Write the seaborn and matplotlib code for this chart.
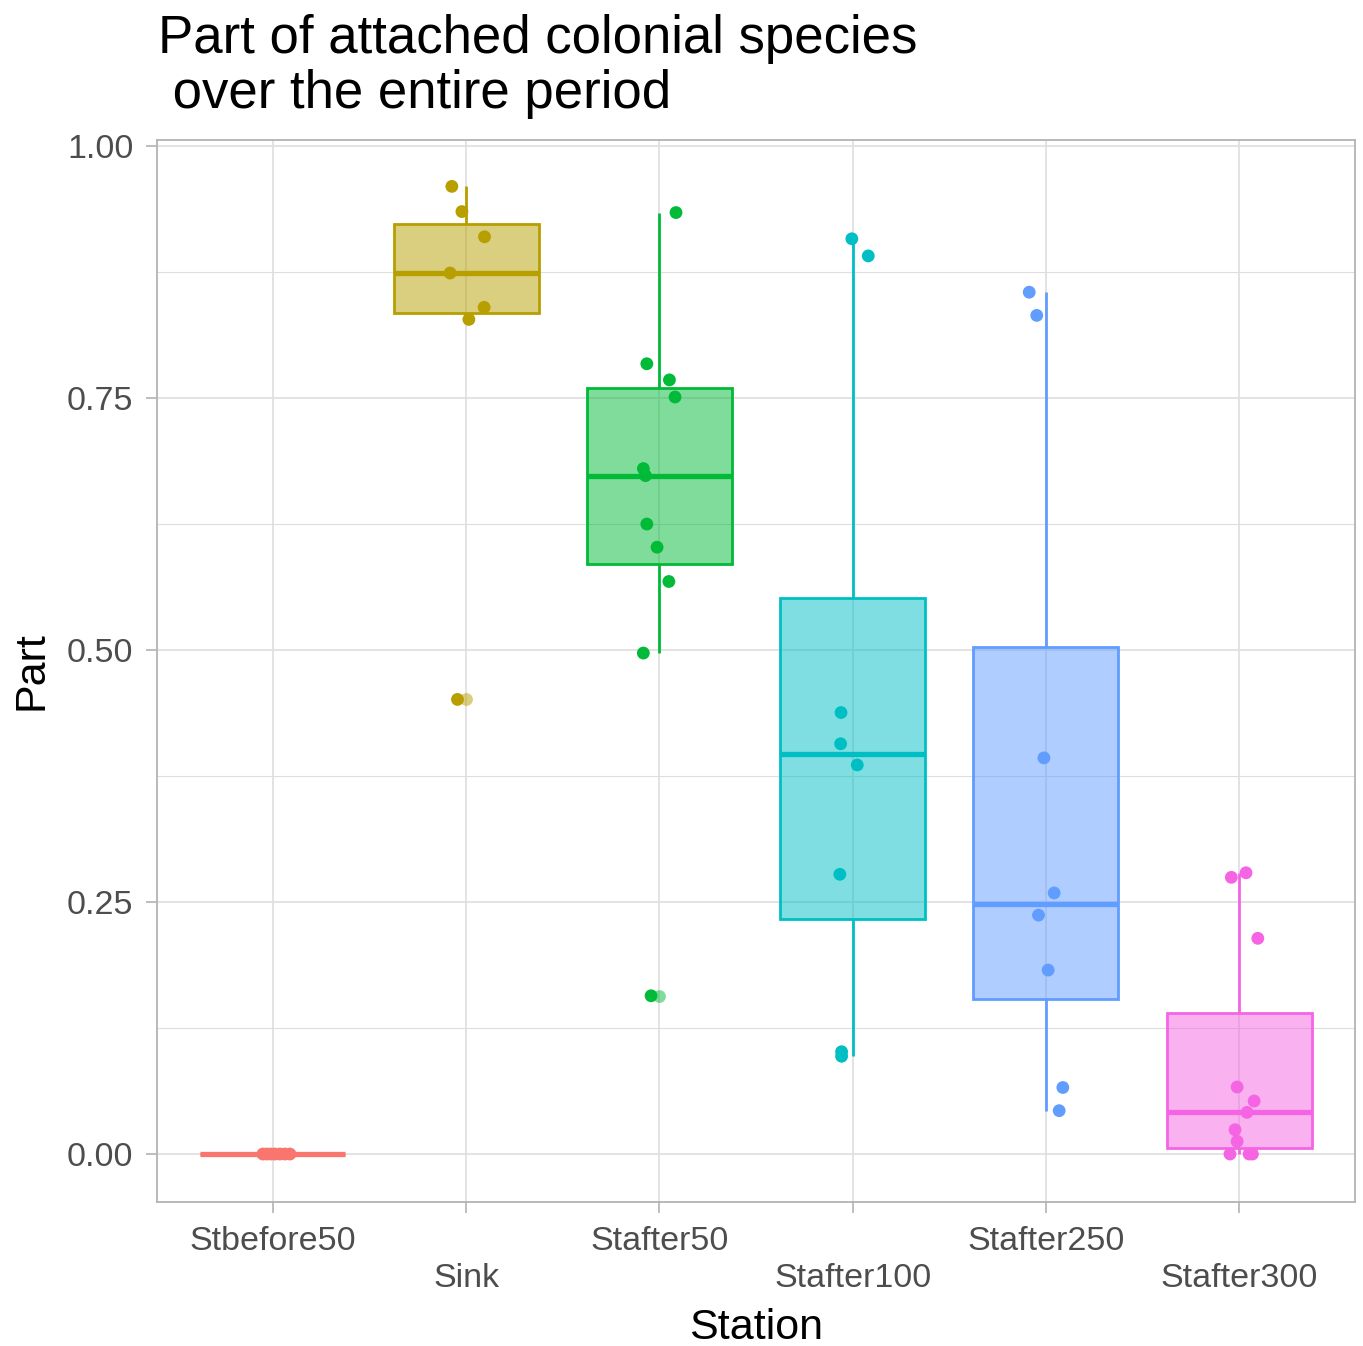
import numpy as np
import pandas as pd
import matplotlib
matplotlib.use("Agg")
import matplotlib.pyplot as plt
from matplotlib.colors import to_rgba
import seaborn as sns

# ---------------- data ----------------
stations = ["Stbefore50", "Sink", "Stafter50", "Stafter100", "Stafter250", "Stafter300"]
colors = ["#F8766D", "#B79F00", "#00BA38", "#00BFC4", "#619CFF", "#F564E3"]

part_stbefore50 = [0, 0, 0, 0, 0, 0, 0]
part_sink = [0.960, 0.935, 0.910, 0.874, 0.840, 0.828, 0.451]
part_stafter50 = [0.934, 0.784, 0.768, 0.751, 0.680, 0.673, 0.625, 0.602, 0.568, 0.497, 0.157]
part_stafter100 = [0.908, 0.891, 0.438, 0.407, 0.386, 0.2775, 0.1015, 0.097]
part_stafter250 = [0.855, 0.832, 0.393, 0.259, 0.237, 0.1825, 0.066, 0.043]
part_stafter300 = [0.2745, 0.279, 0.214, 0.0665, 0.0526, 0.0413, 0.0241, 0.0126, 0.0, 0.0, 0.0]

# horizontal jitter of each point (category units)
jit_stbefore50 = [-0.052, -0.031, -0.010, 0.010, 0.036, 0.062, 0.088]
jit_sink = [-0.074, -0.022, 0.095, -0.083, 0.093, 0.014, -0.045]
jit_stafter50 = [0.086, -0.065, 0.052, 0.081, -0.083, -0.072, -0.065, -0.012, 0.049, -0.083, -0.043]
jit_stafter100 = [-0.004, 0.081, -0.060, -0.062, 0.024, -0.066, -0.057, -0.057]
jit_stafter250 = [-0.086, -0.047, -0.010, 0.043, -0.038, 0.012, 0.088, 0.069]
jit_stafter300 = [-0.040, 0.036, 0.097, -0.010, 0.078, 0.041, -0.021, -0.010, -0.047, 0.052, 0.069]

y_ticks = [0.0, 0.25, 0.50, 0.75, 1.00]
y_tick_labels = ["0.00", "0.25", "0.50", "0.75", "1.00"]

title = "Part of attached colonial species\n over the entire period"

values = [part_stbefore50, part_sink, part_stafter50, part_stafter100, part_stafter250, part_stafter300]
jitters = [jit_stbefore50, jit_sink, jit_stafter50, jit_stafter100, jit_stafter250, jit_stafter300]

rows = []
for st, vals, jits in zip(stations, values, jitters):
    for v, j in zip(vals, jits):
        rows.append({"Station": st, "Part": v, "jit": j})
df = pd.DataFrame(rows)
df["xpos"] = df["Station"].map({s: i for i, s in enumerate(stations)}) + df["jit"]

# ---------------- figure ----------------
sns.set_style("white")
plt.rcParams["font.family"] = ["Liberation Sans", "DejaVu Sans"]

W, H = 1363, 1346
fig = plt.figure(figsize=(W / 100, H / 100), dpi=100)
L, R, T, B = 157, 1355, 140, 1202
ax = fig.add_axes([L / W, 1 - B / H, (R - L) / W, (B - T) / H])

grey70 = "#B3B3B3"
grey87 = "#DEDEDE"
grey30 = "#4D4D4D"

lw_box = 2.0
pal = dict(zip(stations, colors))
for st, c in zip(stations, colors):
    sub = df[df["Station"] == st]
    n_before = len(ax.patches)
    sns.boxplot(data=sub, x="Station", y="Part", order=stations, color=c,
                linecolor=c, linewidth=lw_box, width=0.75, whis=1.5,
                showcaps=False, fill=True, ax=ax,
                medianprops=dict(color=c, linewidth=3.8),
                whiskerprops=dict(color=c, linewidth=lw_box),
                flierprops=dict(marker="o", markersize=9.2,
                                markerfacecolor=to_rgba(c, 0.5),
                                markeredgecolor="none"))
    for p in ax.patches[n_before:]:
        p.set_facecolor(to_rgba(c, 0.5))
        p.set_edgecolor(c)

sns.scatterplot(data=df, x="xpos", y="Part", hue="Station", palette=pal,
                hue_order=stations, s=85, linewidth=0, legend=False, ax=ax,
                zorder=5)

ax.set_xlim(-0.6, 5.6)
ax.set_ylim(-0.0476, 1.006)

# grid
ax.set_axisbelow(True)
ax.set_yticks(y_ticks)
ax.set_yticklabels(y_tick_labels)
ax.set_yticks([0.125, 0.375, 0.625, 0.875], minor=True)
ax.set_xticks(range(len(stations)))
ax.set_xticklabels([s if i % 2 == 0 else "\n" + s for i, s in enumerate(stations)],
                   linespacing=1.25)
ax.grid(True, which="major", color=grey87, linewidth=1.2)
ax.grid(True, which="minor", axis="y", color=grey87, linewidth=0.8)

for sp in ax.spines.values():
    sp.set_visible(True)
    sp.set_color(grey70)
    sp.set_linewidth(1.3)

ax.tick_params(axis="both", which="major", length=8, width=1.2, color=grey70,
               labelsize=24.5, labelcolor=grey30, pad=9, direction="out")
ax.tick_params(axis="y", which="minor", length=0)
ax.tick_params(bottom=True, left=True)

ax.set_xlabel("Station", fontsize=31, color="black")
ax.set_ylabel("Part", fontsize=31, color="black")
ax.xaxis.set_label_coords(0.5, (B - 1328) / (B - T))
ax.xaxis.label.set_verticalalignment("center")
ax.yaxis.set_label_coords((32 - L) / (R - L), 0.5)
ax.yaxis.label.set_verticalalignment("center")

fig.text(158 / W, 1 - 14 / H, title, ha="left", va="top", fontsize=38,
         color="black", linespacing=1.12)

fig.savefig("out.png", dpi=100)
